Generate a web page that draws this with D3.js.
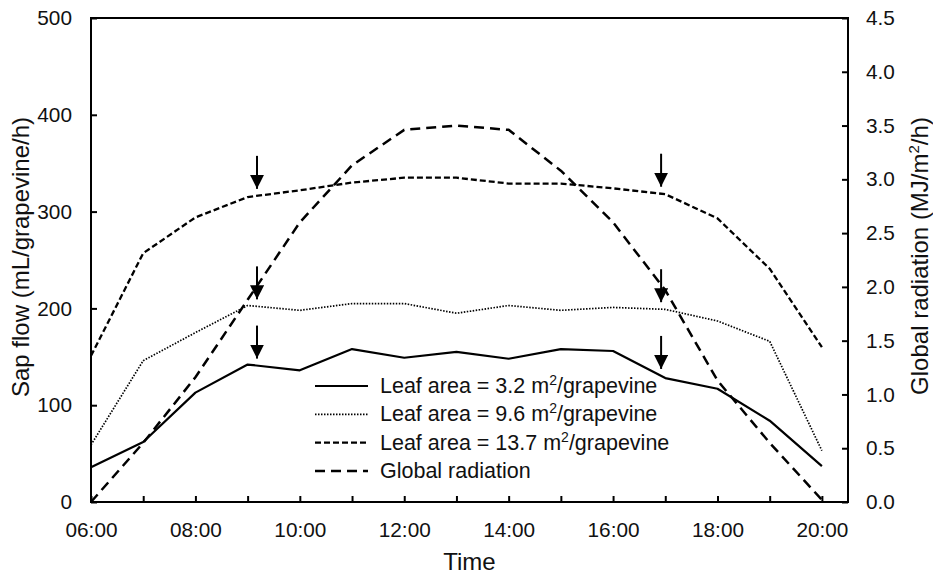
<!DOCTYPE html>
<html>
<head>
<meta charset="utf-8">
<script src="https://cdn.jsdelivr.net/npm/d3@7"></script>
<style>
  body { margin: 0; background: #fff; }
  text { font-family: "Liberation Sans", Arial, sans-serif; fill: #111; }
</style>
</head>
<body>
<svg id="chart" width="933" height="578"></svg>
<script>
// hours of the day
const hours = [6, 7, 8, 9, 10, 11, 12, 13, 14, 15, 16, 17, 18, 19, 20];

// sap flow, mL/grapevine/h
const leaf32 = [36, 62, 113, 142, 136, 158, 149, 155, 148, 158, 156, 128, 117, 84, 37];
const leaf96 = [59, 146, 175, 203, 198, 205, 205, 195, 203, 198, 201, 199, 187, 166, 53];
const leaf137 = [151, 257, 294, 315, 322, 330, 335, 335, 329, 329, 324, 318, 293, 241, 160];

// global radiation, MJ/m2/h
const radiation = [0.0, 0.55, 1.16, 1.88, 2.6, 3.13, 3.46, 3.5, 3.46, 3.08, 2.6, 1.97, 1.13, 0.55, 0.02];

// times of the arrows
const arrowTimes = [9.18, 16.92];

const leftTicks = [0, 100, 200, 300, 400, 500];
const rightTicks = [0, 0.5, 1, 1.5, 2, 2.5, 3, 3.5, 4, 4.5];
const legendLabels = ["Leaf area = 3.2 m", "Leaf area = 9.6 m", "Leaf area = 13.7 m", "Global radiation"];

const svg = d3.select("#chart");
const plotL = 91, plotR = 848, plotT = 18, plotB = 502;

const x = d3.scaleLinear().domain([6, 20.5]).range([plotL, plotR]);
const y = d3.scaleLinear().domain([0, 500]).range([plotB, plotT]);
const y2 = d3.scaleLinear().domain([0, 4.5]).range([plotB, plotT]);

// axes, ticks pointing inward
const xAxis = d3.axisBottom(x)
    .tickValues(hours)
    .tickSizeInner(-6)
    .tickSizeOuter(0)
    .tickPadding(20)
    .tickFormat((d) => (d % 2 === 0 ? d3.format("02d")(d) + ":00" : ""));
const yAxis = d3.axisLeft(y).tickValues(leftTicks).tickSizeInner(-6).tickSizeOuter(0).tickPadding(19);
const yAxis2 = d3.axisRight(y2).tickValues(rightTicks).tickSizeInner(-6).tickSizeOuter(0).tickPadding(18)
    .tickFormat(d3.format(".1f"));

function styleAxis(g) {
    g.select(".domain").remove();
    g.selectAll(".tick line").attr("stroke", "#000").attr("stroke-width", 2);
    g.selectAll(".tick text").attr("font-size", 20.8).attr("font-family", "Liberation Sans, Arial, sans-serif").attr("fill", "#111");
}

svg.append("g").attr("transform", `translate(0,${plotB})`).call(xAxis).call(styleAxis);
svg.append("g").attr("transform", `translate(${plotL},0)`).call(yAxis).call(styleAxis);
svg.append("g").attr("transform", `translate(${plotR},0)`).call(yAxis2).call(styleAxis);

svg.append("rect")
    .attr("x", plotL).attr("y", plotT)
    .attr("width", plotR - plotL).attr("height", plotB - plotT)
    .attr("fill", "none").attr("stroke", "#000").attr("stroke-width", 2);

// series
const series = [
    { values: leaf32, scale: y, dash: null, width: 2.2 },
    { values: leaf96, scale: y, dash: "1.5,1.5", width: 1.7 },
    { values: leaf137, scale: y, dash: "6,3", width: 2.3 },
    { values: radiation, scale: y2, dash: "10,6", width: 2.5 },
];

series.forEach((s) => {
    const line = d3.line().x((d, i) => x(hours[i])).y((d) => s.scale(d));
    svg.append("path")
        .datum(s.values)
        .attr("d", line)
        .attr("fill", "none")
        .attr("stroke", "#000")
        .attr("stroke-width", s.width)
        .attr("stroke-linejoin", "round")
        .attr("stroke-dasharray", s.dash);
});

// arrows above the sap flow series
const defs = svg.append("defs");
defs.append("marker")
    .attr("id", "head")
    .attr("viewBox", "0 0 10 10")
    .attr("refX", 10).attr("refY", 5)
    .attr("markerWidth", 7).attr("markerHeight", 7)
    .attr("markerUnits", "strokeWidth")
    .attr("orient", "auto")
    .append("path").attr("d", "M0,0 L10,5 L0,10 Z").attr("fill", "#000");

[leaf32, leaf96, leaf137].forEach((vals) => {
    arrowTimes.forEach((t) => {
        const v = d3.scaleLinear().domain(hours).range(vals)(t);
        const tipY = y(v) - 7;
        svg.append("line")
            .attr("x1", x(t)).attr("x2", x(t))
            .attr("y1", tipY - 33).attr("y2", tipY)
            .attr("stroke", "#000").attr("stroke-width", 2)
            .attr("marker-end", "url(#head)");
    });
});

// legend
const legend = svg.append("g").attr("transform", "translate(315,386)");
legendLabels.forEach((lab, i) => {
    const s = series[i];
    const g = legend.append("g").attr("transform", `translate(0,${i * 28.3})`);
    g.append("line")
        .attr("x1", 0).attr("x2", 53)
        .attr("stroke", "#000")
        .attr("stroke-width", s.width)
        .attr("stroke-dasharray", s.dash);
    const t = g.append("text").attr("x", 65).attr("y", 7).attr("font-size", 21.5).text(lab);
    if (i < 3) {
        t.append("tspan").attr("dy", -8).attr("font-size", 14).text("2");
        t.append("tspan").attr("dy", 8).text("/grapevine");
    }
});

// axis titles
svg.append("text")
    .attr("x", (plotL + plotR) / 2).attr("y", 570)
    .attr("text-anchor", "middle").attr("font-size", 24)
    .text("Time");

svg.append("text")
    .attr("transform", "translate(28.5,257) rotate(-90)")
    .attr("text-anchor", "middle").attr("font-size", 24)
    .text("Sap flow (mL/grapevine/h)");

const rt = svg.append("text")
    .attr("transform", "translate(928,256) rotate(-90)")
    .attr("text-anchor", "middle").attr("font-size", 24)
    .text("Global radiation (MJ/m");
rt.append("tspan").attr("dy", -9).attr("font-size", 15).text("2");
rt.append("tspan").attr("dy", 9).text("/h)");
</script>
</body>
</html>
